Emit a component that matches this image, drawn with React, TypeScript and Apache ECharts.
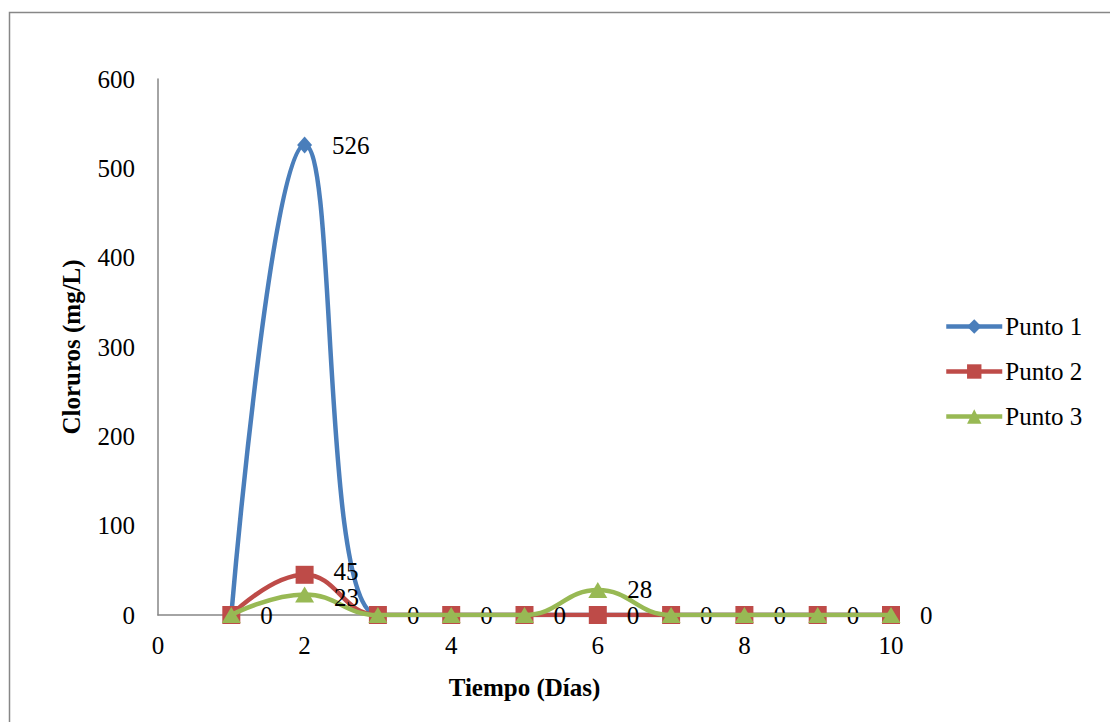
import React, { useEffect, useRef } from "react";
import * as echarts from "echarts";

// Days of sampling and chloride concentrations (mg/L) at each sampling point
const days = [1, 2, 3, 4, 5, 6, 7, 8, 9, 10];
const punto1 = [0, 526, 0, 0, 0, 0, 0, 0, 0, 0];
const punto2 = [0, 45, 0, 0, 0, 0, 0, 0, 0, 0];
const punto3 = [0, 23, 0, 0, 0, 28, 0, 0, 0, 0];
const seriesNames = ["Punto 1", "Punto 2", "Punto 3"];
const xTicks = [0, 2, 4, 6, 8, 10];
const yTicks = [0, 100, 200, 300, 400, 500, 600];

const FONT = "Liberation Serif";
const FS = 25;

export default function App() {
  const ref = useRef<HTMLDivElement>(null);

  useEffect(() => {
    if (!ref.current) return;
    const chart = echarts.init(ref.current, null, { renderer: "svg" });

    // Day 2 holds two close labels (Punto 2 and Punto 3); nudge them apart a little
    const toPairs = (vals: number[], day2Shift = 0) =>
      days.map((d, i) =>
        d === 2 && day2Shift !== 0
          ? { value: [d, vals[i]], label: { offset: [0, day2Shift] } }
          : [d, vals[i]]
      );
    const labelStyle = {
      show: true,
      position: "right" as const,
      distance: 20,
      fontFamily: FONT,
      fontSize: FS,
      lineHeight: 18,
      color: "#000",
    };
    // Only one value label per position, so coincident zeros are not stacked
    const nonZeroLabel = (p: any) => (p.value[1] === 0 ? "" : String(p.value[1]));

    chart.setOption({
      animation: false,
      backgroundColor: "#fff",
      textStyle: { fontFamily: FONT },
      graphic: [
        {
          type: "rect",
          shape: { x: 9.5, y: 12.5, width: 1120, height: 730 },
          style: { fill: "none", stroke: "#878787", lineWidth: 1.5 },
          silent: true,
        },
      ],
      grid: { left: 158, right: 219, top: 79, bottom: 107 },
      legend: {
        orient: "vertical",
        left: 939,
        top: 309,
        itemWidth: 56,
        itemHeight: 18,
        itemGap: 20,
        lineStyle: { width: 4.5 },
        textStyle: { fontFamily: FONT, fontSize: FS, color: "#000", padding: [0, 0, 0, -2] },
        data: seriesNames,
      },
      xAxis: {
        type: "value",
        min: xTicks[0],
        max: xTicks[xTicks.length - 1],
        interval: 2,
        name: "Tiempo (Días)",
        nameLocation: "middle",
        nameGap: 60,
        nameTextStyle: { fontFamily: FONT, fontSize: FS, fontWeight: "bold", color: "#000" },
        axisLine: { show: true, lineStyle: { color: "#868686", width: 1.5 } },
        axisTick: { show: false },
        splitLine: { show: false },
        axisLabel: { fontFamily: FONT, fontSize: FS, color: "#000", margin: 18 },
      },
      yAxis: {
        type: "value",
        min: yTicks[0],
        max: yTicks[yTicks.length - 1],
        interval: 100,
        name: "Cloruros (mg/L)",
        nameLocation: "middle",
        nameGap: 74,
        nameTextStyle: { fontFamily: FONT, fontSize: FS, fontWeight: "bold", color: "#000" },
        axisLine: { show: true, lineStyle: { color: "#868686", width: 1.5 } },
        axisTick: { show: false },
        splitLine: { show: false },
        axisLabel: { fontFamily: FONT, fontSize: FS, color: "#000", margin: 23 },
      },
      series: [
        {
          name: seriesNames[0],
          type: "line",
          data: toPairs(punto1),
          smooth: 0.45,
          symbol: "diamond",
          symbolSize: [15, 17],
          lineStyle: { color: "#4A7EBB", width: 4.5 },
          itemStyle: { color: "#4A7EBB" },
          label: { ...labelStyle, formatter: nonZeroLabel },
          z: 2,
        },
        {
          name: seriesNames[1],
          type: "line",
          data: toPairs(punto2, -3),
          smooth: 0.45,
          symbol: "rect",
          symbolSize: 18,
          lineStyle: { color: "#BE4B48", width: 4.5 },
          itemStyle: { color: "#BE4B48" },
          label: { ...labelStyle, formatter: (p: any) => String(p.value[1]) },
          z: 3,
        },
        {
          name: seriesNames[2],
          type: "line",
          data: toPairs(punto3, 3),
          smooth: 0.45,
          symbol: "triangle",
          symbolSize: [19, 16],
          lineStyle: { color: "#98B954", width: 4.5 },
          itemStyle: { color: "#98B954" },
          label: { ...labelStyle, formatter: nonZeroLabel },
          z: 4,
        },
      ],
    });

    return () => chart.dispose();
  }, []);

  return (
    <div
      ref={ref}
      style={{ position: "fixed", left: 0, top: 0, width: 1110, height: 722 }}
    />
  );
}
